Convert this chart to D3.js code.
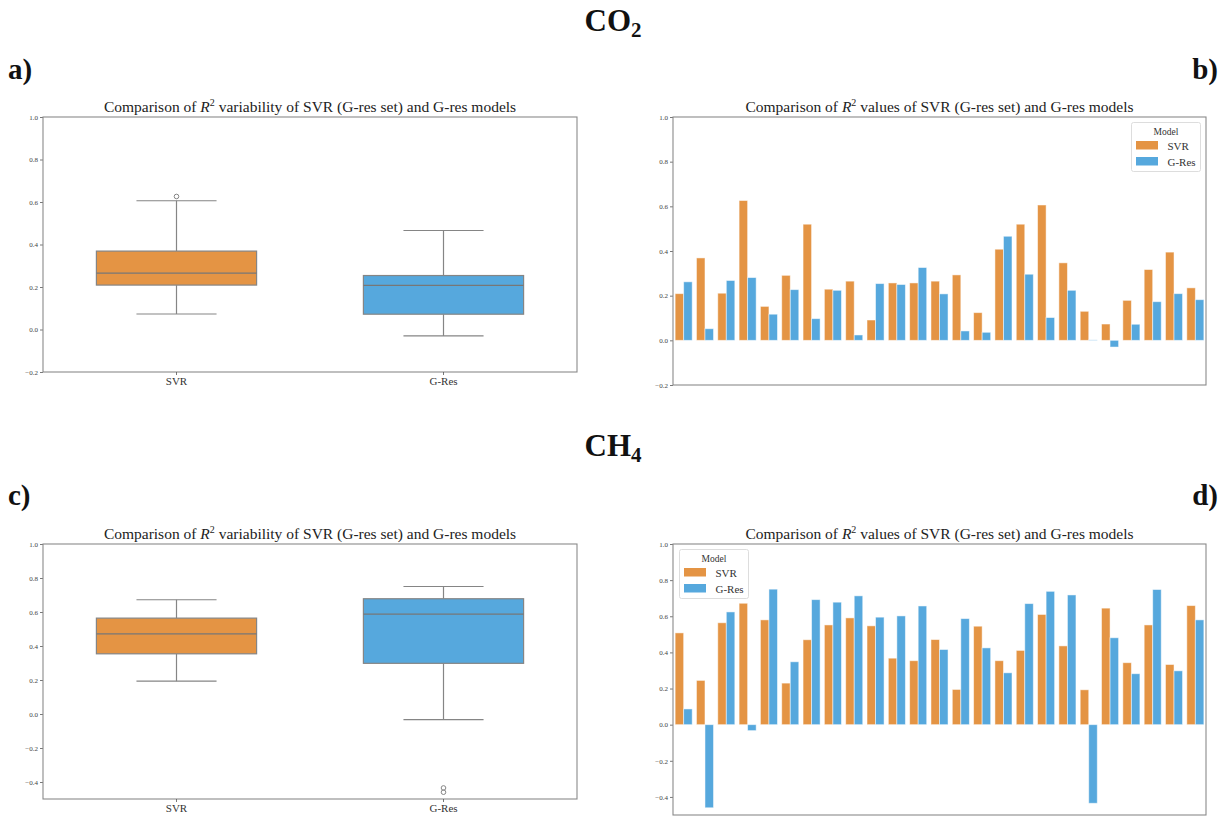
<!DOCTYPE html>
<html>
<head>
<meta charset="utf-8">
<script src="https://cdn.jsdelivr.net/npm/d3@7"></script>
<style>
  html, body { margin: 0; padding: 0; background: #fff; }
  svg { display: block; font-family: "Liberation Serif", "DejaVu Serif", serif; }
</style>
</head>
<body>
<svg id="fig" width="1228" height="816"></svg>
<script>
// ---- data: R² per site for SVR (G-res set) and G-Res models ----
const models = ["SVR", "G-Res"];
const yTicksTop = [-0.2, 0.0, 0.2, 0.4, 0.6, 0.8, 1.0];
const yTicksBottom = [-0.4, -0.2, 0.0, 0.2, 0.4, 0.6, 0.8, 1.0];

const co2SVR = [0.209, 0.369, 0.211, 0.626, 0.152, 0.291, 0.520, 0.229, 0.265, 0.091,
                0.257, 0.257, 0.265, 0.293, 0.124, 0.408, 0.520, 0.606, 0.347, 0.130,
                0.073, 0.179, 0.317, 0.395, 0.235];
const co2GRes = [0.262, 0.052, 0.268, 0.281, 0.117, 0.227, 0.097, 0.224, 0.024, 0.254,
                 0.250, 0.326, 0.208, 0.042, 0.036, 0.466, 0.296, 0.102, 0.224, 0.002,
                 -0.030, 0.072, 0.173, 0.209, 0.182];

const ch4SVR = [0.508, 0.245, 0.564, 0.672, 0.580, 0.230, 0.470, 0.552, 0.591, 0.547,
                0.368, 0.354, 0.471, 0.195, 0.545, 0.354, 0.411, 0.610, 0.436, 0.193,
                0.645, 0.343, 0.552, 0.333, 0.659];
const ch4GRes = [0.087, -0.460, 0.624, -0.033, 0.750, 0.348, 0.692, 0.678, 0.713, 0.595,
                 0.602, 0.657, 0.416, 0.587, 0.425, 0.287, 0.670, 0.738, 0.718, -0.435,
                 0.481, 0.282, 0.748, 0.298, 0.580];

const colors = { "SVR": "#e49444", "G-Res": "#56a8dd" };
const spine = "#8a8a8a";
const lineCol = "#858585";

const svg = d3.select("#fig");

// ---- headings ----
function chemLabel(x, y, main, sub) {
  const t = svg.append("text").attr("x", x).attr("y", y)
    .attr("text-anchor", "middle").attr("font-size", 31).attr("font-weight", "bold")
    .attr("fill", "#111");
  t.append("tspan").text(main);
  t.append("tspan").attr("dy", 6).attr("font-size", 21).text(sub);
}
chemLabel(613, 31, "CO", "2");
chemLabel(613, 456, "CH", "4");

function panelLetter(x, y, s, anchor) {
  svg.append("text").attr("x", x).attr("y", y).attr("text-anchor", anchor)
    .attr("font-size", 29).attr("font-weight", "bold").attr("fill", "#111").text(s);
}
panelLetter(8, 79, "a)", "start");
panelLetter(1218, 79, "b)", "end");
panelLetter(8, 505, "c)", "start");
panelLetter(1218, 505, "d)", "end");

// ---- axes frame helper ----
function makeAxes(box, domain, ticks, title) {
  const g = svg.append("g");
  const y = d3.scaleLinear().domain(domain).range([box.y1, box.y0]);
  const fmt = d => (d < 0 ? "\u2212" : "") + Math.abs(d).toFixed(1);
  const ax = g.append("g").attr("transform", `translate(${box.x0},0)`)
    .call(d3.axisLeft(y).tickValues(ticks).tickFormat(fmt).tickSize(3).tickPadding(2));
  ax.select(".domain").remove();
  ax.selectAll(".tick line").attr("stroke", "#555").attr("stroke-width", 0.8);
  ax.selectAll(".tick text").attr("font-size", 7).attr("fill", "#444")
    .attr("font-family", "Liberation Serif, serif");
  // title with italic R and superscript 2
  const t = g.append("text").attr("x", (box.x0 + box.x1) / 2).attr("y", box.y0 - 5)
    .attr("text-anchor", "middle").attr("font-size", 15.5).attr("fill", "#222");
  t.append("tspan").text(title[0]);
  t.append("tspan").attr("font-style", "italic").text("R");
  t.append("tspan").attr("dy", -6).attr("font-size", 10).text("2");
  t.append("tspan").attr("dy", 6).text(title[1]);
  return { g, y };
}
function drawFrame(g, box) {
  g.append("rect").attr("x", box.x0).attr("y", box.y0)
    .attr("width", box.x1 - box.x0).attr("height", box.y1 - box.y0)
    .attr("fill", "none").attr("stroke", spine).attr("stroke-width", 1.1);
}

// ---- box plot panel ----
function boxPanel(box, domain, ticks, series) {
  const { g, y } = makeAxes(box, domain, ticks,
    ["Comparison of ", " variability of SVR (G-res set) and G-res models"]);
  const x = d3.scaleBand().domain(models).range([box.x0, box.x1]);
  const bw = x.bandwidth() * 0.6;
  models.forEach((m, i) => {
    const vals = series[i].slice().sort(d3.ascending);
    const q1 = d3.quantile(vals, 0.25), med = d3.quantile(vals, 0.5), q3 = d3.quantile(vals, 0.75);
    const iqr = q3 - q1;
    const inside = vals.filter(v => v >= q1 - 1.5 * iqr && v <= q3 + 1.5 * iqr);
    const lo = d3.min(inside), hi = d3.max(inside);
    const out = vals.filter(v => v < q1 - 1.5 * iqr || v > q3 + 1.5 * iqr);
    const cx = x(m) + x.bandwidth() / 2;
    const cap = bw / 2;
    // whiskers
    g.append("line").attr("x1", cx).attr("x2", cx).attr("y1", y(hi)).attr("y2", y(q3))
      .attr("stroke", lineCol).attr("stroke-width", 1.2);
    g.append("line").attr("x1", cx).attr("x2", cx).attr("y1", y(q1)).attr("y2", y(lo))
      .attr("stroke", lineCol).attr("stroke-width", 1.2);
    [hi, lo].forEach(v => g.append("line").attr("x1", cx - cap / 2).attr("x2", cx + cap / 2)
      .attr("y1", y(v)).attr("y2", y(v)).attr("stroke", lineCol).attr("stroke-width", 1.2));
    // box
    g.append("rect").attr("x", cx - bw / 2).attr("y", y(q3)).attr("width", bw)
      .attr("height", y(q1) - y(q3)).attr("fill", colors[m])
      .attr("stroke", lineCol).attr("stroke-width", 1.2);
    g.append("line").attr("x1", cx - bw / 2).attr("x2", cx + bw / 2)
      .attr("y1", y(med)).attr("y2", y(med)).attr("stroke", "#777").attr("stroke-width", 1.2);
    // outliers
    out.forEach(v => g.append("circle").attr("cx", cx).attr("cy", y(v)).attr("r", 2.3)
      .attr("fill", "none").attr("stroke", lineCol).attr("stroke-width", 1));
  });
  drawFrame(g, box);
  // category labels
  const xa = g.append("g").attr("transform", `translate(0,${box.y1})`)
    .call(d3.axisBottom(x).tickSize(3).tickPadding(2));
  xa.select(".domain").remove();
  xa.selectAll(".tick line").attr("stroke", "#555").attr("stroke-width", 0.8);
  xa.selectAll(".tick text").attr("font-size", 11).attr("fill", "#333")
    .attr("font-family", "Liberation Serif, serif");
}

// ---- grouped bar panel ----
function barPanel(box, domain, ticks, series, legendPos) {
  const { g, y } = makeAxes(box, domain, ticks,
    ["Comparison of ", " values of SVR (G-res set) and G-res models"]);
  const idx = d3.range(series[0].length);
  const x0 = d3.scaleBand().domain(idx).range([box.x0, box.x1]);
  const x1 = d3.scaleBand().domain(models)
    .range([x0.bandwidth() * 0.1, x0.bandwidth() * 0.9]);
  models.forEach((m, k) => {
    g.append("g").selectAll("rect").data(series[k]).join("rect")
      .attr("x", (d, i) => x0(i) + x1(m))
      .attr("width", x1.bandwidth())
      .attr("y", d => y(Math.max(0, d)))
      .attr("height", d => Math.abs(y(d) - y(0)))
      .attr("fill", colors[m])
      .attr("stroke", "rgba(255,255,255,0.55)").attr("stroke-width", 0.9);
  });
  drawFrame(g, box);
  // legend
  const L = g.append("g").attr("transform", `translate(${legendPos[0]},${legendPos[1]})`);
  L.append("rect").attr("width", 69).attr("height", 49).attr("rx", 2)
    .attr("fill", "rgba(255,255,255,0.85)").attr("stroke", "#dddddd").attr("stroke-width", 1);
  L.append("text").attr("x", 34.5).attr("y", 12).attr("text-anchor", "middle")
    .attr("font-size", 9.5).attr("fill", "#333").text("Model");
  models.forEach((m, k) => {
    L.append("rect").attr("x", 4.5).attr("y", 18.5 + k * 16).attr("width", 22).attr("height", 8.5)
      .attr("fill", colors[m]);
    L.append("text").attr("x", 36).attr("y", 27 + k * 16).attr("font-size", 11)
      .attr("fill", "#333").text(m);
  });
}

boxPanel({ x0: 43, x1: 577, y0: 117, y1: 372 }, [-0.2, 1.0], yTicksTop, [co2SVR, co2GRes]);
barPanel({ x0: 673, x1: 1206, y0: 117, y1: 385 }, [-0.2, 1.0], yTicksTop, [co2SVR, co2GRes], [1131.5, 122.5]);
boxPanel({ x0: 43, x1: 577, y0: 544, y1: 799 }, [-0.5, 1.0], yTicksBottom, [ch4SVR, ch4GRes]);
barPanel({ x0: 673, x1: 1206, y0: 544, y1: 815 }, [-0.5, 1.0], yTicksBottom, [ch4SVR, ch4GRes], [679.5, 549.5]);
</script>
</body>
</html>
